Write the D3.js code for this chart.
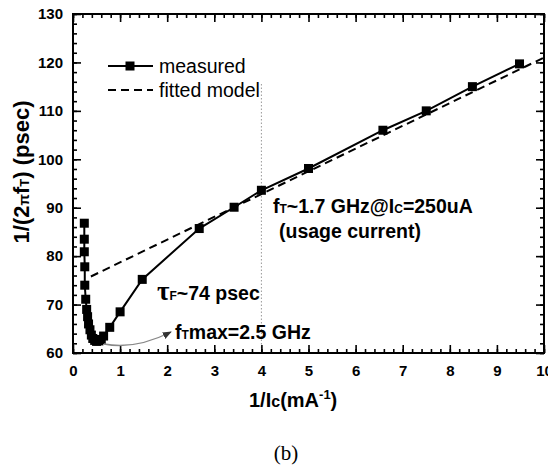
<!DOCTYPE html>
<html>
<head>
<meta charset="utf-8">
<script src="https://cdn.jsdelivr.net/npm/d3@7"></script>
<style>
  html, body { margin: 0; padding: 0; background: #fff; }
  svg { display: block; }
  text { font-family: Arial, "Liberation Sans", sans-serif; }
</style>
</head>
<body>
<svg id="chart" width="548" height="472"></svg>
<script>
// Measured 1/(2*pi*fT) versus inverse collector current
const invIc = [0.24, 0.24, 0.24, 0.25, 0.25, 0.27, 0.29, 0.31, 0.33, 0.36, 0.39, 0.42, 0.46, 0.50, 0.55, 0.60, 0.65, 0.78, 1.00, 1.47, 2.68, 3.42, 4.00, 5.00, 6.58, 7.50, 8.48, 9.48];
const delay = [86.8, 83.5, 80.9, 77.8, 74.0, 71.1, 69.0, 67.5, 66.0, 64.8, 63.7, 63.0, 62.6, 62.4, 62.5, 62.8, 63.5, 65.3, 68.5, 75.2, 85.7, 90.1, 93.6, 98.1, 106.0, 110.0, 115.0, 119.7];

// Fitted linear model (end points)
const fitX = [0.38, 10];
const fitY = [75.8, 121.0];

// Axis ticks
const xTicks = [0, 1, 2, 3, 4, 5, 6, 7, 8, 9, 10];
const yTicks = [60, 70, 80, 90, 100, 110, 120, 130];
const xMinor = d3.range(0, 10.001, 0.2);
const yMinor = d3.range(60, 130.001, 2);

// Usage-current marker
const usageX = [4];

(function draw() {
const svg = d3.select("#chart");
const pl = 73, pr = 544, pt = 14, pb = 353;

const x = d3.scaleLinear().domain([0, 10]).range([pl, pr]);
const y = d3.scaleLinear().domain([60, 130]).range([pb, pt]);

// dotted guide at the usage current
svg.selectAll("line.guide").data(usageX).join("line")
  .attr("class", "guide")
  .attr("x1", d => x(d)).attr("x2", d => x(d))
  .attr("y1", 84).attr("y2", pb)
  .attr("stroke", "#999").attr("stroke-width", 1)
  .attr("stroke-dasharray", "1.5,2");

// axes: major ticks inward on every side, labels on bottom & left
function styleAxis(g) {
  g.select(".domain").remove();
  g.selectAll(".tick line").attr("stroke", "#000").attr("stroke-width", 1.6);
  g.selectAll(".tick text").attr("fill", "#000")
    .style("font-size", "15px").style("font-weight", "bold");
}
svg.append("g").attr("transform", `translate(0,${pb})`)
  .call(d3.axisBottom(x).tickValues(xMinor).tickSize(-4).tickFormat(""))
  .call(styleAxis);
svg.append("g").attr("transform", `translate(0,${pb})`)
  .call(d3.axisBottom(x).tickValues(xTicks).tickSize(-8).tickPadding(12).tickFormat(d3.format("d")))
  .call(styleAxis);
svg.append("g").attr("transform", `translate(0,${pt})`)
  .call(d3.axisTop(x).tickValues(xMinor).tickSize(-4).tickFormat(""))
  .call(styleAxis);
svg.append("g").attr("transform", `translate(0,${pt})`)
  .call(d3.axisTop(x).tickValues(xTicks).tickSize(-8).tickFormat(""))
  .call(styleAxis);
svg.append("g").attr("transform", `translate(${pl},0)`)
  .call(d3.axisLeft(y).tickValues(yMinor).tickSize(-4).tickFormat(""))
  .call(styleAxis);
svg.append("g").attr("transform", `translate(${pl},0)`)
  .call(d3.axisLeft(y).tickValues(yTicks).tickSize(-8).tickPadding(10).tickFormat(d3.format("d")))
  .call(styleAxis);
svg.append("g").attr("transform", `translate(${pr},0)`)
  .call(d3.axisRight(y).tickValues(yMinor).tickSize(-4).tickFormat(""))
  .call(styleAxis);
svg.append("g").attr("transform", `translate(${pr},0)`)
  .call(d3.axisRight(y).tickValues(yTicks).tickSize(-8).tickFormat(""))
  .call(styleAxis);

// frame
svg.append("rect")
  .attr("x", pl).attr("y", pt)
  .attr("width", pr - pl).attr("height", pb - pt)
  .attr("fill", "none").attr("stroke", "#000").attr("stroke-width", 2);

// fitted model
svg.append("path")
  .datum(d3.zip(fitX, fitY))
  .attr("fill", "none").attr("stroke", "#000").attr("stroke-width", 2)
  .attr("stroke-dasharray", "8,5")
  .attr("d", d3.line().x(d => x(d[0])).y(d => y(d[1])));

// measured series
const pts = d3.zip(invIc, delay);
svg.append("path")
  .datum(pts)
  .attr("fill", "none").attr("stroke", "#000").attr("stroke-width", 2)
  .attr("d", d3.line().x(d => x(d[0])).y(d => y(d[1])));
const ms = 9;
svg.selectAll("rect.pt").data(pts).join("rect")
  .attr("class", "pt")
  .attr("x", d => x(d[0]) - ms / 2).attr("y", d => y(d[1]) - ms / 2)
  .attr("width", ms).attr("height", ms).attr("fill", "#000");

// legend
const lg = svg.append("g");
lg.append("line").attr("x1", 108).attr("x2", 153).attr("y1", 66).attr("y2", 66)
  .attr("stroke", "#000").attr("stroke-width", 2);
lg.append("rect").attr("x", 130 - ms / 2).attr("y", 66 - ms / 2)
  .attr("width", ms).attr("height", ms).attr("fill", "#000");
lg.append("text").attr("x", 159).attr("y", 73).style("font-size", "19.5px").text("measured");
lg.append("line").attr("x1", 108).attr("x2", 153).attr("y1", 90).attr("y2", 90)
  .attr("stroke", "#000").attr("stroke-width", 2).attr("stroke-dasharray", "8,5");
lg.append("text").attr("x", 159).attr("y", 97).style("font-size", "19.5px").text("fitted model");

// annotations
const ann = svg.append("g").style("font-weight", "bold").style("font-size", "19.5px");
const t1 = ann.append("text").attr("x", 273).attr("y", 213);
t1.append("tspan").text("f");
t1.append("tspan").style("font-size", "12px").text("T");
t1.append("tspan").text("~1.7 GHz@I");
t1.append("tspan").style("font-size", "12px").text("C");
t1.append("tspan").text("=250uA");
ann.append("text").attr("x", 279).attr("y", 238).text("(usage current)");

const t2 = ann.append("text").attr("x", 157).attr("y", 300);
t2.append("tspan").style("font-family", "'Liberation Serif', 'Times New Roman', serif")
  .style("font-size", "27px").text("τ");
t2.append("tspan").style("font-size", "12px").text("F");
t2.append("tspan").text("~74 psec");

const t3 = ann.append("text").attr("x", 175).attr("y", 339);
t3.append("tspan").text("f");
t3.append("tspan").style("font-size", "12px").text("T");
t3.append("tspan").text("max=2.5 GHz");

// curved pointer to the delay minimum
svg.append("defs").append("marker")
  .attr("id", "head").attr("viewBox", "0 0 10 10")
  .attr("refX", 9).attr("refY", 5)
  .attr("markerWidth", 7).attr("markerHeight", 7)
  .attr("orient", "auto")
  .append("path").attr("d", "M0,1 L10,5 L0,9 Z").attr("fill", "#333");
svg.append("path")
  .attr("d", "M104,344 Q135,350 171,332")
  .attr("fill", "none").attr("stroke", "#888").attr("stroke-width", 1.3)
  .attr("marker-end", "url(#head)");

// axis titles
const yt = svg.append("text")
  .attr("transform", "translate(29,172) rotate(-90)")
  .attr("text-anchor", "middle")
  .style("font-size", "22px").style("font-weight", "bold");
yt.append("tspan").text("1/(2");
yt.append("tspan").style("font-size", "15px").text("π");
yt.append("tspan").text("f");
yt.append("tspan").style("font-size", "13px").text("T");
yt.append("tspan").text(") (psec)");

const xt = svg.append("text")
  .attr("x", 249).attr("y", 407)
  .style("font-size", "20px").style("font-weight", "bold");
xt.append("tspan").text("1/I");
xt.append("tspan").style("font-size", "16px").text("c");
xt.append("tspan").text("(mA");
xt.append("tspan").attr("dy", -8).style("font-size", "13px").text("-1");
xt.append("tspan").attr("dy", 8).text(")");

svg.append("text")
  .attr("x", 286).attr("y", 460).attr("text-anchor", "middle")
  .style("font-family", "'Liberation Serif', 'Times New Roman', serif")
  .style("font-size", "21px").text("(b)");
})();
</script>
</body>
</html>
